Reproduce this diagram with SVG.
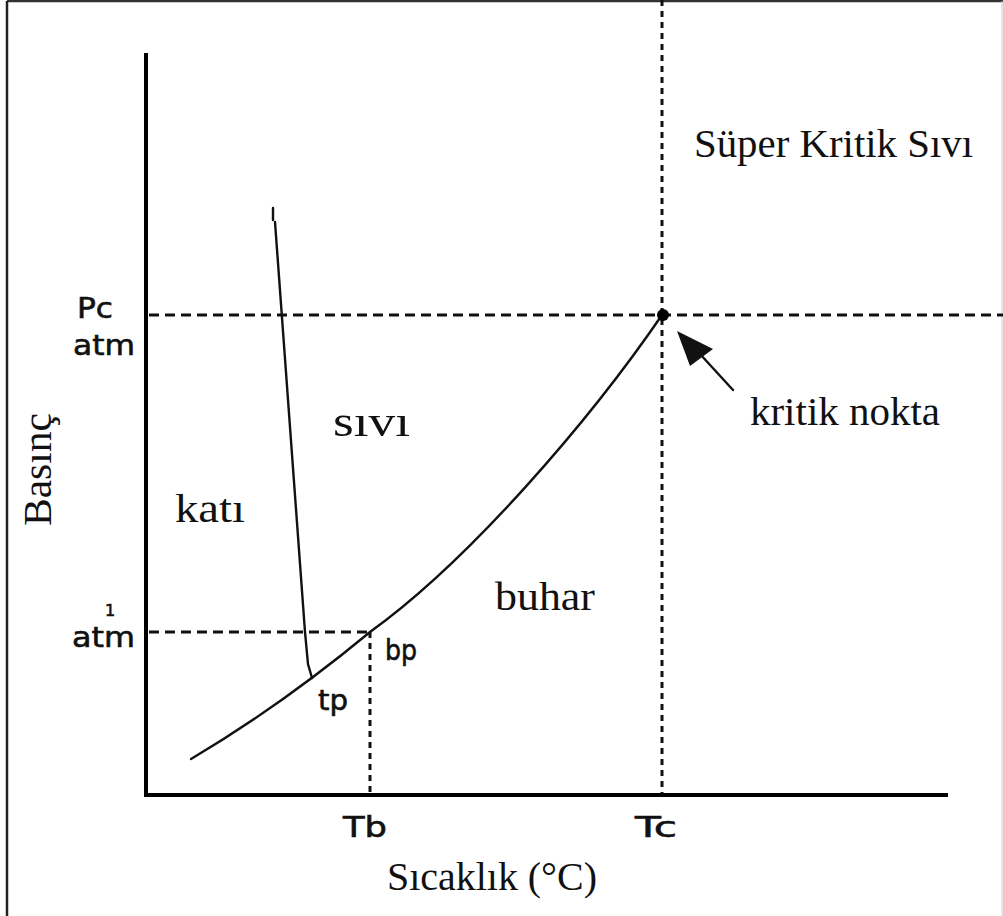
<svg xmlns="http://www.w3.org/2000/svg" width="1003" height="916" viewBox="0 0 1003 916">
<style>
.serif{font-family:"Liberation Serif","Times New Roman",serif;fill:#111;font-size:41px}
.sans{font-family:"DejaVu Sans","Verdana",sans-serif;fill:#111;font-size:28px;stroke:#111;stroke-width:0.6}
.axis{stroke:#000;stroke-width:4;fill:none}
.curve{stroke:#111;stroke-width:2.4;fill:none;stroke-linecap:round}
.dh{stroke:#111;stroke-width:2.8;stroke-dasharray:10 6;fill:none}
.dv{stroke:#111;stroke-width:3;stroke-dasharray:6 5;fill:none}
</style>
<rect x="0" y="0" width="1003" height="916" fill="#fff"/>
<g id="frame">
<line x1="7" y1="1" x2="1003" y2="1" stroke="#333" stroke-width="2.5"/>
<line x1="7" y1="1" x2="7" y2="916" stroke="#222" stroke-width="2.5"/>
<line x1="1002" y1="1" x2="1002" y2="916" stroke="#ccc" stroke-width="1"/>
</g>
<g id="axes">
<line class="axis" x1="146" y1="53" x2="146" y2="795"/>
<line class="axis" x1="144" y1="795" x2="948" y2="795"/>
</g>
<g id="connectors">
<line class="dh" x1="149" y1="315" x2="1003" y2="315"/>
<line class="dv" x1="662" y1="0" x2="662" y2="793"/>
<line class="dh" x1="149" y1="632" x2="370" y2="632"/>
<line class="dv" x1="370" y1="632" x2="370" y2="793"/>
<path id="melting" class="curve" d="M273,208 L273,220 M275,222 L305,632 L308,664 L312,678"/>
<path id="vapor" class="curve" d="M191,759 C240,730 300,690 370,632 C470,560 590,420 662,315"/>
<path id="arrow-line" class="curve" d="M733,390 L700,354"/>
<polygon points="677,331 713,349 690,366" fill="#111"/>
</g>
<g id="critical-point"><circle cx="663" cy="315" r="6" fill="#000"/></g>
<g id="labels">
<text class="sans" x="77" y="318" textLength="36" lengthAdjust="spacingAndGlyphs">Pc</text>
<text class="sans" x="73" y="355" textLength="62" lengthAdjust="spacingAndGlyphs">atm</text>
<text class="sans" x="105" y="616" style="font-size:16px">1</text>
<text class="sans" x="72" y="647" textLength="63" lengthAdjust="spacingAndGlyphs">atm</text>
<text class="sans" x="318" y="710" textLength="30" lengthAdjust="spacingAndGlyphs">tp</text>
<text class="sans" x="385" y="660" textLength="32" lengthAdjust="spacingAndGlyphs">bp</text>
<text class="sans" x="343" y="837" textLength="44" lengthAdjust="spacingAndGlyphs">Tb</text>
<text class="sans" x="635" y="837" textLength="42" lengthAdjust="spacingAndGlyphs">Tc</text>
<text class="serif" x="694" y="157" textLength="279" lengthAdjust="spacingAndGlyphs">Süper Kritik Sıvı</text>
<text class="serif" x="750" y="425" textLength="190" lengthAdjust="spacingAndGlyphs">kritik nokta</text>
<text class="serif" x="333" y="436" style="font-size:44px" textLength="77" lengthAdjust="spacingAndGlyphs">sıvı</text>
<text class="serif" x="175" y="522" textLength="70" lengthAdjust="spacingAndGlyphs">katı</text>
<text class="serif" x="495" y="610" textLength="100" lengthAdjust="spacingAndGlyphs">buhar</text>
<text class="serif" x="387" y="890" textLength="210" lengthAdjust="spacingAndGlyphs">Sıcaklık (°C)</text>
<text class="serif" transform="translate(51,526) rotate(-90)" textLength="113" lengthAdjust="spacingAndGlyphs">Basınç</text>
</g>
</svg>
